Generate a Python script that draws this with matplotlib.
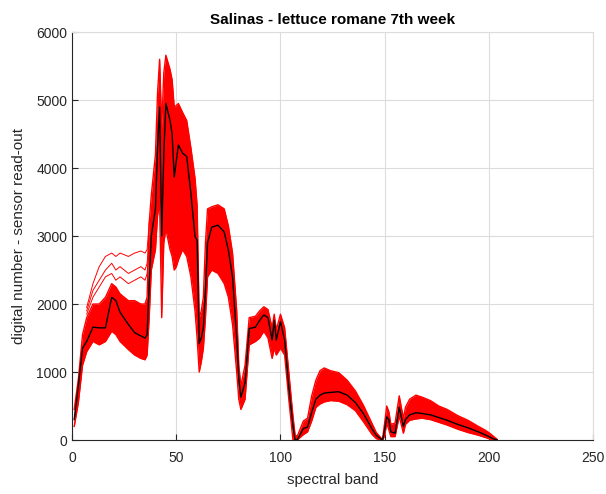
import matplotlib
matplotlib.use("Agg")
import matplotlib.pyplot as plt

plt.rcParams["font.family"] = ["Liberation Sans", "DejaVu Sans"]

# spectral band positions
bands = [1, 3, 5, 7, 10, 13, 16, 19, 21, 23, 27, 30, 33, 35, 36, 37, 38, 40, 41, 42,
         43, 44, 45, 47, 48, 49, 50, 51, 53, 55, 57, 59, 60, 61, 62, 63, 64, 65, 67, 70,
         73, 75, 77, 79, 80, 81, 83, 85, 88, 90, 92, 94, 96, 97, 98, 100, 102, 104, 106, 107,
         108, 111, 113, 115, 117, 119, 121, 124, 128, 132, 136, 140, 144, 146, 148, 149, 150, 151, 152, 153,
         155, 157, 159, 160, 162, 165, 168, 172, 176, 180, 185, 190, 195, 198, 200, 202, 204]

mean_dn = [300, 800, 1350, 1450, 1660, 1650, 1650, 2100, 2050, 1880, 1700, 1580, 1530, 1500, 1550, 2300, 3000, 3400, 4300, 4900,
           3000, 4200, 4950, 4700, 4500, 3870, 4100, 4340, 4220, 4170, 3630, 2990, 2940, 1420, 1500, 1650, 2200, 2900, 3130, 3160,
           3060, 2790, 2400, 1500, 900, 630, 840, 1640, 1660, 1760, 1840, 1800, 1470, 1760, 1470, 1740, 1470, 780, 200, 0,
           0, 170, 190, 410, 600, 660, 690, 700, 710, 660, 550, 380, 160, 70, 20, 0, 150, 340, 300, 120,
           100, 480, 200, 300, 370, 400, 390, 370, 330, 290, 230, 180, 120, 80, 50, 20, 0]

lower_dn = [200, 550, 1100, 1300, 1450, 1400, 1450, 1600, 1550, 1450, 1330, 1250, 1200, 1180, 1250, 1800, 2500, 2800, 3300, 3500,
            1800, 2900, 3100, 2800, 2700, 2500, 2550, 2650, 2800, 2700, 2400, 1900, 1500, 1000, 1150, 1350, 1800, 2400, 2500, 2450,
            2300, 2100, 1700, 1000, 600, 450, 600, 1400, 1450, 1500, 1600, 1500, 1200, 1350, 1250, 1350, 1250, 600, 0, 0,
            0, 80, 120, 280, 480, 530, 560, 580, 570, 520, 430, 260, 80, 20, 0, 0, 60, 250, 150, 50,
            50, 350, 100, 230, 290, 310, 320, 300, 260, 220, 160, 110, 70, 40, 20, 0, 0]

upper_dn = [450, 900, 1550, 1800, 2000, 2000, 2100, 2300, 2250, 2150, 2050, 2050, 2000, 2000, 2100, 3200, 3600, 4200, 5100, 5600,
            4600, 5400, 5660, 5450, 5300, 4900, 4920, 4950, 4820, 4700, 4300, 3850, 3450, 1800, 1900, 2100, 2900, 3400, 3430, 3460,
            3400, 3150, 2750, 1900, 1100, 800, 1100, 1800, 1820, 1900, 1960, 1920, 1650, 1850, 1620, 1850, 1650, 1000, 350, 80,
            50, 280, 320, 650, 880, 1020, 1060, 1020, 990, 880, 720, 500, 240, 110, 40, 10, 250, 500, 420, 230,
            250, 650, 320, 480, 600, 660, 630, 580, 500, 450, 360, 290, 200, 150, 110, 60, 10]

# sparse bright pixels above the dense band (bands 7-37)
outlier_bands = [7, 10, 13, 16, 19, 21, 23, 27, 30, 33, 35, 36, 37]
outlier_a = [1950, 2300, 2550, 2700, 2750, 2700, 2750, 2700, 2750, 2780, 2750, 2800, 3200]
outlier_b = [1900, 2200, 2350, 2500, 2600, 2500, 2550, 2450, 2500, 2550, 2500, 2600, 3000]
outlier_c = [1850, 2100, 2250, 2400, 2450, 2350, 2400, 2300, 2350, 2400, 2350, 2450, 2800]

fig = plt.figure(figsize=(6.06, 4.94), dpi=100)
ax = fig.add_axes([0.119, 0.1093, 0.8595, 0.8257])

ax.fill_between(bands, lower_dn, upper_dn, color="red", linewidth=0, zorder=2)
ax.plot(bands, lower_dn, color="red", lw=1, zorder=2)
ax.plot(bands, upper_dn, color="red", lw=1, zorder=2)
for series in (outlier_a, outlier_b, outlier_c):
    ax.plot(outlier_bands, series, color="red", lw=0.7, zorder=2)
ax.plot(bands, mean_dn, color="black", lw=1, zorder=3)

ax.set_xlim(0, 250)
ax.set_ylim(0, 6000)
ax.set_xticks(range(0, 251, 50))
ax.set_yticks(range(0, 6001, 1000))
ax.grid(True, color="#dcdcdc", lw=0.8, zorder=0)
ax.set_axisbelow(True)
for side in ("top", "right"):
    ax.spines[side].set_color("#dcdcdc")
for side in ("left", "bottom"):
    ax.spines[side].set_color("#262626")
ax.tick_params(direction="in", length=4, labelsize=10, colors="#262626",
               top=False, right=False)
ax.tick_params(axis="x", pad=8)

ax.set_title("Salinas - lettuce romane 7th week", fontsize=11, fontweight="bold", pad=6)
ax.set_xlabel("spectral band", fontsize=11, color="#262626", labelpad=6)
ax.set_ylabel("digital number - sensor read-out", fontsize=11, color="#262626", labelpad=7)

fig.savefig("out.png", dpi=100)
